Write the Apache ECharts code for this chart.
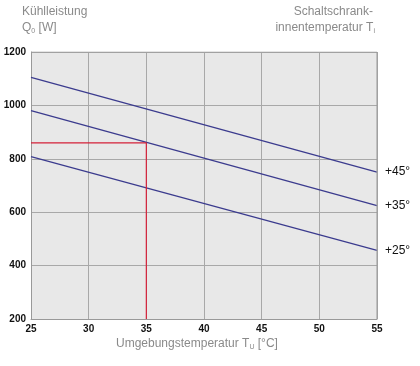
<!DOCTYPE html>
<html><head><meta charset="utf-8">
<script src="https://cdn.jsdelivr.net/npm/echarts@6/dist/echarts.min.js"></script>
<style>html,body{margin:0;padding:0;background:#fff}#c{width:420px;height:366px}</style>
</head><body><div id="c"></div>
<script>
const xTicks = [25, 30, 35, 40, 45, 50, 55];
const yTicks = [200, 400, 600, 800, 1000, 1200];
const seriesNames = ['+45°', '+35°', '+25°'];
const line45 = [[25, 1105], [55, 750]];
const line35 = [[25, 980], [55, 625]];
const line25 = [[25, 808], [55, 457]];
const redPath = [[25, 860], [35, 860], [35, 200]];

const chart = echarts.init(document.getElementById('c'));
const FONT = '"Liberation Sans Narrow","Liberation Sans",Arial,sans-serif';
const TFONT = '"Liberation Sans",Arial,sans-serif';
const blue = '#3b3b8e';
function mk(name, data) {
  return {
    name: name, type: 'line', data: data, symbol: 'none', silent: true,
    lineStyle: { color: blue, width: 1.3 },
    endLabel: {
      show: true, distance: 8, formatter: name,
      fontFamily: FONT, fontSize: 12, color: '#111'
    }
  };
}
chart.setOption({
  animation: false,
  grid: { left: 31, top: 52, right: 43, bottom: 47, show: true, backgroundColor: '#e8e8e8', borderWidth: 0, outerBoundsMode: 'none', containLabel: false },
  xAxis: {
    type: 'value', min: xTicks[0], max: xTicks[xTicks.length - 1], interval: 5,
    axisLine: { show: true, lineStyle: { color: '#999', width: 1 } },
    axisTick: { show: false },
    splitLine: { show: true, lineStyle: { color: '#a8a8a8', width: 1 } },
    axisLabel: { fontFamily: TFONT, fontSize: 10, fontWeight: 'bold', color: '#111', margin: 5, formatter: v => String(v) }
  },
  yAxis: {
    type: 'value', min: yTicks[0], max: yTicks[yTicks.length - 1], interval: 200,
    axisLine: { show: true, lineStyle: { color: '#999', width: 1 } },
    axisTick: { show: false },
    splitLine: { show: true, lineStyle: { color: '#a8a8a8', width: 1 } },
    axisLabel: { fontFamily: TFONT, fontSize: 10, fontWeight: 'bold', color: '#111', margin: 5, formatter: v => String(v) }
  },
  series: [
    mk(seriesNames[0], line45),
    mk(seriesNames[1], line35),
    mk(seriesNames[2], line25),
    { type: 'line', data: redPath, symbol: 'none', silent: true, lineStyle: { color: '#d42038', width: 1.2 } },
    { type: 'line', data: [[55, 200], [55, 1200]], symbol: 'none', silent: true, lineStyle: { color: '#999', width: 1 } },
    { type: 'line', data: [[25, 1200], [55, 1200]], symbol: 'none', silent: true, lineStyle: { color: '#999', width: 1 } }
  ],
  graphic: [
    { type: 'text', left: 22, top: 6, style: { text: 'Kühlleistung', font: '12px ' + FONT, fill: '#8a8a8a' } },
    { type: 'text', left: 22, top: 22, style: {
        text: '{a|Q}{s|0}{a| [W]}',
        rich: { a: { font: '12px ' + FONT, fill: '#8a8a8a' }, s: { font: '7px ' + FONT, fill: '#8a8a8a', padding: [6, 0, 0, 0] } } } },
    { type: 'text', right: 47, top: 6, style: { text: 'Schaltschrank-', font: '12px ' + FONT, fill: '#8a8a8a', align: 'right' } },
    { type: 'text', right: 45, top: 22, style: {
        text: '{a|innentemperatur T}{s|i}',
        rich: { a: { font: '12px ' + FONT, fill: '#8a8a8a' }, s: { font: '7px ' + FONT, fill: '#8a8a8a', padding: [6, 0, 0, 0] } } } },
    { type: 'text', left: 116, top: 338, style: {
        text: '{a|Umgebungstemperatur T}{s|U}{a| [°C]}',
        rich: { a: { font: '12px ' + FONT, fill: '#8a8a8a' }, s: { font: '7px ' + FONT, fill: '#8a8a8a', padding: [6, 0, 0, 0] } } } }
  ]
});
</script></body></html>
